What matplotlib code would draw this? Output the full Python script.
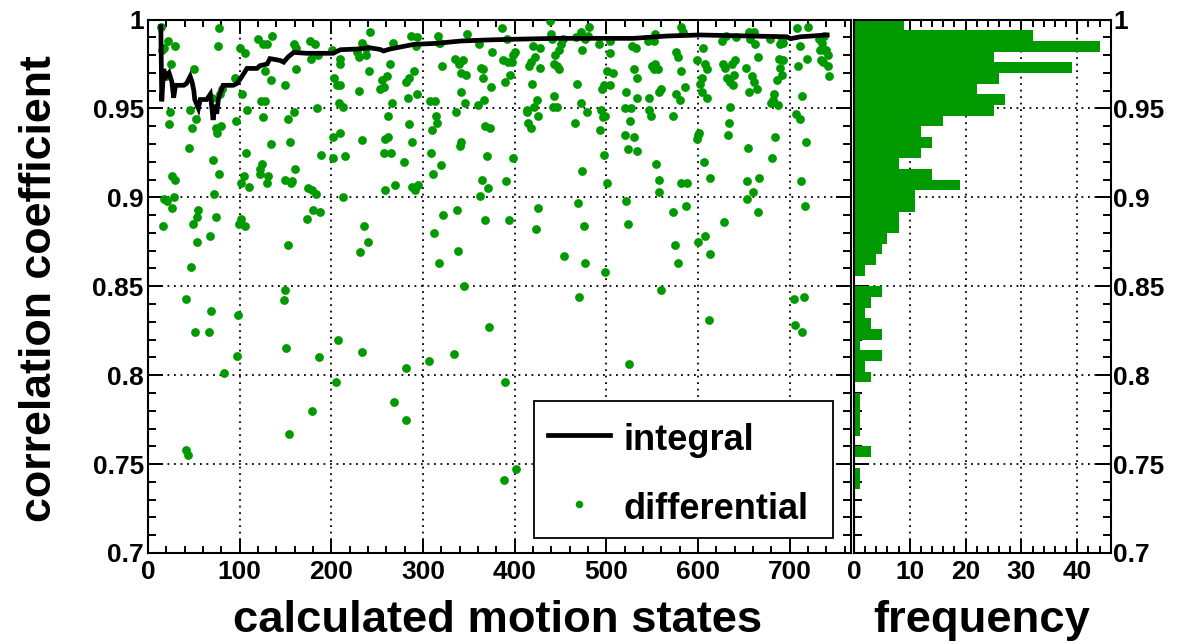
import matplotlib
matplotlib.use("Agg")
import matplotlib.pyplot as plt
import numpy as np
from matplotlib.ticker import FixedLocator, FixedFormatter, MultipleLocator
from matplotlib.lines import Line2D
from matplotlib.patches import Rectangle

GREEN = "#009900"
FONT = "Liberation Sans"

# ---- integral correlation vs. number of calculated motion states ----
integral_states = [14, 15, 17, 20, 23, 26, 28, 30, 39, 42, 46, 48, 50, 51, 55, 57,
                   64, 68, 70, 71, 73, 75, 77, 79, 82, 93, 97, 100, 108, 119, 122,
                   130, 133, 144, 148, 153, 159, 173, 188, 202, 210, 228, 242, 253,
                   257, 264, 290, 315, 341, 370, 399, 446, 497, 530, 566, 602, 639,
                   697, 701, 712, 741]
integral_corr = [0.996, 0.954, 0.972, 0.968, 0.970, 0.965, 0.956, 0.963, 0.963,
                 0.964, 0.968, 0.965, 0.960, 0.955, 0.950, 0.955, 0.955, 0.958,
                 0.949, 0.9435, 0.952, 0.947, 0.956, 0.959, 0.963, 0.963, 0.964,
                 0.966, 0.9725, 0.9725, 0.974, 0.975, 0.978, 0.977, 0.976, 0.979,
                 0.9815, 0.981, 0.981, 0.981, 0.983, 0.9834, 0.9841, 0.9832, 0.9823,
                 0.9834, 0.986, 0.9866, 0.9879, 0.9885, 0.9889, 0.9894, 0.9894,
                 0.9894, 0.9907, 0.9913, 0.9909, 0.9903, 0.9892, 0.9903, 0.9913]

# ---- differential correlation per motion state ----
diff_states = [
    14, 78, 22, 15, 17, 29, 76, 25, 50, 20, 100, 106, 120, 126, 130, 135, 128, 134,
    95, 81, 79, 70, 103, 150, 161, 159, 162, 177, 182, 178, 186, 201, 210, 210, 203,
    206, 209, 208, 213, 228, 230, 234, 238, 238, 241, 242, 230,
    184, 123, 128, 126, 108, 96, 153, 159, 46, 24, 23, 52, 48, 74, 80, 75, 45, 134,
    155, 202, 210, 234, 189, 202, 215, 71, 107, 124, 122, 122, 160, 78, 26, 30, 105,
    102, 110, 131, 130, 149, 157, 156, 175, 179, 183, 72, 28, 17, 21, 213,
    26, 55, 54, 49, 16, 74, 68, 53, 47, 102, 99, 106, 153, 174, 180, 188, 236, 240,
    231, 42, 69, 67, 51, 98, 97, 83, 149, 148, 151, 187, 207, 233,
    205, 281, 390, 268, 179, 282, 154, 42, 44, 401, 388,
    362, 322, 337, 368, 394, 312, 338, 318, 345, 426, 469, 423, 476, 454, 477, 499,
    470, 372, 334, 307,
    558, 521, 660, 653, 573, 587, 666, 524, 628, 608, 600, 575, 613, 578, 717, 560,
    612, 705, 716, 706, 714, 525,
    267, 287, 293, 292, 316, 348, 317, 319, 361, 386, 392, 375, 439, 440, 441, 420,
    428, 422, 453, 451, 448, 444, 467, 472, 477, 481, 480, 492, 504, 473, 504,
    264, 290, 285, 282, 261, 255, 253, 257,
    321, 335, 339, 344, 342, 347, 363, 366, 365, 387, 393, 397, 400, 398, 395, 389,
    374, 341, 308, 313, 346, 367, 360, 336, 284, 294, 266, 262, 314, 315, 310, 285,
    259, 262, 288, 257, 265, 279, 309, 320, 311, 340, 342, 368, 373, 370, 398, 364,
    371, 391, 259, 269, 288, 295, 291,
    413, 421, 413, 425, 415, 418, 419, 424, 416, 418, 428, 443, 442, 446, 443, 446,
    448, 468, 472, 479, 466, 474, 493, 495, 497, 494, 499, 496, 498, 501, 501, 504,
    528, 532, 546, 552, 553, 582, 584, 576, 578, 507, 530, 533, 550, 553, 552, 556,
    581, 522, 534, 547, 560, 558, 576, 580, 586, 520, 527, 526, 547, 549, 573, 520,
    530, 524, 534, 554, 557, 581, 588,
    599, 606, 604, 602, 608, 610, 604, 610, 600, 601, 599, 607, 613, 626, 631, 641,
    627, 630, 637, 640, 632, 635, 638, 639, 635, 634, 633, 655, 656, 661, 662, 665,
    657, 652, 659, 661, 664, 656, 681, 653, 667, 679, 692, 690, 693, 688, 693, 689,
    692, 686, 683, 682, 680, 687, 684, 708, 720, 711, 719, 709, 713, 707, 711, 718,
    712, 732, 735, 737, 733, 740, 742, 738, 734, 736, 742, 743,
]
diff_corr = [
    0.996, 0.995, 0.988, 0.983, 0.984, 0.985, 0.985, 0.975, 0.972, 0.968, 0.984,
    0.981, 0.989, 0.986, 0.986, 0.991, 0.971, 0.966, 0.967, 0.961, 0.958, 0.956,
    0.958, 0.963, 0.972, 0.986, 0.984, 0.988, 0.986, 0.978, 0.980, 0.983, 0.978,
    0.975, 0.967, 0.963, 0.963, 0.953, 0.951, 0.982, 0.979, 0.987, 0.980, 0.984,
    0.971, 0.993, 0.960,
    0.950, 0.954, 0.954, 0.945, 0.949, 0.943, 0.944, 0.948, 0.949, 0.948, 0.941,
    0.944, 0.939, 0.939, 0.940, 0.936, 0.928, 0.930, 0.931, 0.934, 0.936, 0.932,
    0.924, 0.922, 0.923, 0.921, 0.925, 0.919, 0.916, 0.913, 0.916, 0.913, 0.912,
    0.910, 0.912, 0.908, 0.906, 0.912, 0.908, 0.910, 0.909, 0.908, 0.905, 0.904,
    0.902, 0.902, 0.900, 0.899, 0.898, 0.900,
    0.894, 0.893, 0.889, 0.885, 0.884, 0.889, 0.878, 0.875, 0.861, 0.888, 0.885,
    0.884, 0.873, 0.888, 0.893, 0.892, 0.884, 0.875, 0.869, 0.843, 0.836, 0.824,
    0.824, 0.834, 0.811, 0.801, 0.848, 0.842, 0.815, 0.810, 0.820, 0.813,
    0.796, 0.804, 0.796, 0.785, 0.780, 0.775, 0.767, 0.758, 0.755, 0.747, 0.741,
    0.901, 0.890, 0.893, 0.887, 0.887, 0.880, 0.870, 0.863, 0.850, 0.894, 0.897,
    0.882, 0.884, 0.867, 0.863, 0.858, 0.844, 0.827, 0.812, 0.808,
    0.903, 0.898, 0.903, 0.899, 0.892, 0.895, 0.892, 0.885, 0.886, 0.878, 0.875,
    0.873, 0.868, 0.863, 0.895, 0.848, 0.831, 0.843, 0.844, 0.828, 0.824, 0.806,
    0.987, 0.991, 0.990, 0.985, 0.991, 0.992, 0.987, 0.987, 0.986, 0.995, 0.989,
    0.982, 0.999, 0.992, 0.989, 0.985, 0.984, 0.979, 0.989, 0.986, 0.983, 0.980,
    0.990, 0.993, 0.989, 0.996, 0.991, 0.986, 0.988, 0.983, 0.981,
    0.975, 0.971, 0.967, 0.965, 0.968, 0.966, 0.961, 0.962,
    0.974, 0.978, 0.975, 0.977, 0.970, 0.969, 0.973, 0.972, 0.967, 0.977, 0.976,
    0.976, 0.982, 0.980, 0.969, 0.965, 0.962, 0.959, 0.954, 0.954, 0.953, 0.955,
    0.952, 0.948, 0.956, 0.958, 0.953, 0.946, 0.946, 0.942, 0.938, 0.941, 0.933,
    0.934, 0.931, 0.925, 0.925, 0.920, 0.925, 0.918, 0.913, 0.929, 0.931, 0.940,
    0.939, 0.923, 0.922, 0.910, 0.905, 0.909, 0.904, 0.907, 0.906, 0.907, 0.904,
    0.949, 0.951, 0.948, 0.946, 0.942, 0.939, 0.964, 0.955, 0.974, 0.976, 0.973,
    0.957, 0.951, 0.951, 0.975, 0.974, 0.972, 0.964, 0.953, 0.948, 0.942, 0.915,
    0.938, 0.961, 0.963, 0.949, 0.946, 0.945, 0.924, 0.908, 0.971, 0.963,
    0.985, 0.984, 0.988, 0.988, 0.992, 0.996, 0.993, 0.982, 0.979, 0.970, 0.972,
    0.967, 0.974, 0.975, 0.972, 0.972, 0.971, 0.959, 0.956, 0.956, 0.961, 0.959,
    0.958, 0.955, 0.962, 0.950, 0.950, 0.943, 0.949, 0.946, 0.946, 0.935, 0.934,
    0.927, 0.926, 0.919, 0.910, 0.908, 0.908,
    0.977, 0.984, 0.967, 0.964, 0.975, 0.972, 0.959, 0.956, 0.935, 0.936, 0.933,
    0.920, 0.911, 0.988, 0.991, 0.990, 0.975, 0.973, 0.975, 0.977, 0.967, 0.965,
    0.963, 0.969, 0.951, 0.942, 0.935, 0.928, 0.993, 0.993, 0.986, 0.979, 0.989,
    0.973, 0.968, 0.965, 0.961, 0.959, 0.922, 0.909, 0.911, 0.989, 0.989, 0.986,
    0.987, 0.978, 0.977, 0.973, 0.969, 0.966, 0.958, 0.955, 0.953, 0.952, 0.934,
    0.995, 0.996, 0.985, 0.978, 0.974, 0.957, 0.947, 0.944, 0.931, 0.909, 0.989,
    0.987, 0.983, 0.983, 0.983, 0.980, 0.991, 0.977, 0.976, 0.974, 0.968,
]

# ---- frequency of differential correlation values, 50 bins over [0.7, 1.0] ----
hist_lo, hist_hi, hist_nbins = 0.7, 1.0, 50
hist_counts = [0, 0, 0, 0, 0, 0, 1, 1, 0, 3, 0, 1, 1, 1, 1, 0, 3, 2, 5, 1, 5, 3,
               2, 3, 5, 0, 2, 4, 5, 6, 8, 8, 11, 11, 19, 14, 8, 12, 14, 12, 16,
               25, 27, 22, 26, 39, 25, 44, 32, 9]

y_ticks = [0.7, 0.75, 0.8, 0.85, 0.9, 0.95, 1.0]
y_tick_labels = ["0.7", "0.75", "0.8", "0.85", "0.9", "0.95", "1"]
x_ticks = [0, 100, 200, 300, 400, 500, 600, 700]
freq_ticks = [0, 10, 20, 30, 40]

plt.rcParams["font.family"] = [FONT, "DejaVu Sans"]
plt.rcParams["font.weight"] = "bold"

fig = plt.figure(figsize=(11.79, 6.44), dpi=100)
W, H = 1179.0, 644.0
ax = fig.add_axes([148 / W, 91 / H, 703 / W, 533.5 / H])
axh = fig.add_axes([854 / W, 91 / H, 256.7 / W, 533.5 / H])

grid_kw = dict(color="black", linestyle=(0, (1, 2.6)), linewidth=1.3)


def style_axes(a):
    for s in a.spines.values():
        s.set_linewidth(1.5)
    a.tick_params(which="both", direction="in", top=True, right=True,
                  width=1.4, colors="black")
    a.grid(True, which="major", **grid_kw)
    a.set_axisbelow(True)


# main panel
style_axes(ax)
ax.set_xlim(0, 767)
ax.set_ylim(hist_lo, hist_hi)
ax.xaxis.set_major_locator(FixedLocator(x_ticks))
ax.xaxis.set_major_formatter(FixedFormatter([str(v) for v in x_ticks]))
ax.xaxis.set_minor_locator(MultipleLocator(20))
ax.yaxis.set_major_locator(FixedLocator(y_ticks))
ax.yaxis.set_major_formatter(FixedFormatter(y_tick_labels))
ax.yaxis.set_minor_locator(MultipleLocator(0.01))
ax.tick_params(axis="x", which="major", length=10, pad=5)
ax.tick_params(axis="x", which="minor", length=5)
ax.tick_params(axis="y", which="major", length=11, pad=3)
ax.tick_params(axis="y", which="minor", length=6)
for lab in ax.get_xticklabels() + ax.get_yticklabels():
    lab.set_fontsize(19)
    lab.set_fontweight("bold")

ax.scatter(diff_states, diff_corr, s=40, color=GREEN, linewidths=0, zorder=3,
           clip_on=True)
ax.plot(integral_states, integral_corr, color="black", linewidth=3.4,
        solid_joinstyle="miter", zorder=4)

# legend box
ax.add_patch(Rectangle((0.549, 0.028), 0.425, 0.257, transform=ax.transAxes,
                       facecolor="white", edgecolor="black", linewidth=1.3,
                       zorder=5))
ax.add_line(Line2D([0.569, 0.657], [0.221, 0.221], transform=ax.transAxes,
                   color="black", linewidth=3.4, zorder=6))
ax.add_line(Line2D([0.613], [0.092], transform=ax.transAxes, marker="o",
                   markersize=5.4, markeredgewidth=0, color=GREEN, zorder=6))
ax.text(0.677, 0.193, "integral", transform=ax.transAxes, fontsize=26,
        fontweight="bold", family=FONT, va="baseline", ha="left", zorder=6)
ax.text(0.677, 0.0637, "differential", transform=ax.transAxes, fontsize=26,
        fontweight="bold", family=FONT, va="baseline", ha="left", zorder=6)

# frequency panel
style_axes(axh)
edges = np.linspace(hist_lo, hist_hi, hist_nbins + 1)
axh.stairs(hist_counts, edges, orientation="horizontal", fill=True,
           color=GREEN, linewidth=0, zorder=2)
axh.plot([0, 0], [hist_lo, 0.85], color=GREEN, linewidth=1.5, zorder=2)
axh.set_xlim(0, 46)
axh.set_ylim(hist_lo, hist_hi)
axh.xaxis.set_major_locator(FixedLocator(freq_ticks))
axh.xaxis.set_major_formatter(FixedFormatter([str(v) for v in freq_ticks]))
axh.xaxis.set_minor_locator(MultipleLocator(2))
axh.yaxis.set_major_locator(FixedLocator(y_ticks))
axh.yaxis.set_major_formatter(FixedFormatter(y_tick_labels))
axh.yaxis.set_minor_locator(MultipleLocator(0.01))
axh.tick_params(axis="y", labelleft=False, labelright=True)
axh.tick_params(axis="x", which="major", length=10, pad=5)
axh.tick_params(axis="x", which="minor", length=5)
axh.tick_params(axis="y", which="major", length=11, pad=2)
axh.tick_params(axis="y", which="minor", length=6)
for lab in axh.get_xticklabels() + axh.get_yticklabels():
    lab.set_fontsize(19)
    lab.set_fontweight("bold")

# axis titles
fig.text(498 / W, 1 - 632 / H, "calculated motion states", fontsize=32.7,
         fontweight="bold", family=FONT, ha="center", va="baseline")
fig.text(982 / W, 1 - 632 / H, "frequency", fontsize=32.7,
         fontweight="bold", family=FONT, ha="center", va="baseline")
fig.text(40 / W, 1 - 289 / H, "correlation coefficient", fontsize=32.2,
         fontweight="bold", family=FONT, ha="center", va="center", rotation=90)

fig.savefig("out.png", dpi=100)
